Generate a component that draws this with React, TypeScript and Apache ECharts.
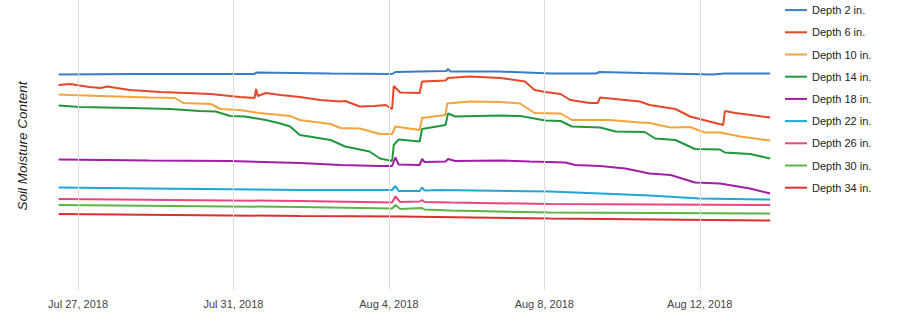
import React, { useEffect, useRef } from "react";
import * as echarts from "echarts";

const seriesNames = [
  "Depth 2 in.", "Depth 6 in.", "Depth 10 in.", "Depth 14 in.", "Depth 18 in.",
  "Depth 22 in.", "Depth 26 in.", "Depth 30 in.", "Depth 34 in.",
];
const seriesColors = [
  "#3a7cc6", "#e5472a", "#f4a53a", "#22973e", "#a11fa6",
  "#21a6d6", "#e8467f", "#5db443", "#d8302f",
];

const depth2: [string, number][] = [
  ["2018-07-26 12:00", 43.1], ["2018-07-28 12:00", 43.2], ["2018-07-31 13:00", 43.2],
  ["2018-07-31 14:00", 43.5], ["2018-08-02 12:00", 43.3], ["2018-08-04 02:00", 43.2],
  ["2018-08-04 04:00", 43.6], ["2018-08-04 19:00", 43.7], ["2018-08-05 11:30", 43.8],
  ["2018-08-05 12:30", 44.2], ["2018-08-05 14:00", 43.7], ["2018-08-06 20:00", 43.7],
  ["2018-08-08 04:00", 43.3], ["2018-08-09 08:00", 43.3], ["2018-08-09 10:00", 43.6],
  ["2018-08-10 12:00", 43.4], ["2018-08-12 08:00", 43.1], ["2018-08-12 15:00", 43.3],
  ["2018-08-13 19:30", 43.3],
];
const depth6: [string, number][] = [
  ["2018-07-26 12:00", 41.0], ["2018-07-26 19:00", 41.2], ["2018-07-27 07:00", 40.6],
  ["2018-07-27 14:00", 40.4], ["2018-07-27 18:00", 40.7], ["2018-07-28 08:00", 40.0],
  ["2018-07-29 03:00", 39.6], ["2018-07-29 19:00", 39.4], ["2018-07-30 10:00", 39.2],
  ["2018-07-31 04:00", 38.6], ["2018-07-31 13:00", 38.4], ["2018-07-31 14:00", 40.2],
  ["2018-07-31 15:00", 38.8], ["2018-07-31 20:00", 39.4], ["2018-08-01 05:00", 39.0],
  ["2018-08-01 17:00", 38.6], ["2018-08-02 05:30", 38.0], ["2018-08-02 18:00", 37.7],
  ["2018-08-02 21:00", 37.8], ["2018-08-03 06:00", 36.7], ["2018-08-03 15:00", 36.8],
  ["2018-08-03 22:00", 37.0], ["2018-08-04 02:00", 36.2], ["2018-08-04 03:00", 40.8],
  ["2018-08-04 07:00", 39.5], ["2018-08-04 19:00", 39.4], ["2018-08-04 20:30", 41.7],
  ["2018-08-05 11:00", 41.9], ["2018-08-05 12:30", 42.4], ["2018-08-06 02:00", 42.7],
  ["2018-08-06 21:00", 42.4], ["2018-08-07 12:00", 41.7], ["2018-08-07 18:00", 40.0],
  ["2018-08-08 00:30", 39.6], ["2018-08-08 10:00", 39.2], ["2018-08-08 16:00", 38.0],
  ["2018-08-09 04:00", 37.4], ["2018-08-09 09:00", 37.4], ["2018-08-09 10:30", 38.5],
  ["2018-08-09 13:30", 38.4], ["2018-08-10 11:00", 37.7], ["2018-08-10 17:00", 37.0],
  ["2018-08-11 09:00", 36.2], ["2018-08-11 18:00", 34.7], ["2018-08-12 09:30", 33.4],
  ["2018-08-12 14:30", 33.0], ["2018-08-12 15:30", 35.8], ["2018-08-12 22:00", 35.4],
  ["2018-08-13 10:00", 34.9], ["2018-08-13 19:30", 34.5],
];
const depth10: [string, number][] = [
  ["2018-07-26 12:00", 39.1], ["2018-07-26 19:00", 39.0], ["2018-07-27 14:00", 38.8],
  ["2018-07-28 20:00", 38.5], ["2018-07-29 12:00", 38.4], ["2018-07-29 17:00", 37.4],
  ["2018-07-30 10:00", 37.2], ["2018-07-30 16:00", 36.2], ["2018-07-31 04:00", 36.0],
  ["2018-07-31 16:00", 35.4], ["2018-08-01 11:00", 34.8], ["2018-08-01 17:00", 34.0],
  ["2018-08-02 12:00", 33.2], ["2018-08-02 18:00", 32.4], ["2018-08-03 06:00", 32.3],
  ["2018-08-03 18:30", 31.2], ["2018-08-04 02:00", 31.2], ["2018-08-04 04:00", 32.7],
  ["2018-08-04 19:00", 32.0], ["2018-08-04 20:30", 34.4], ["2018-08-05 11:00", 35.0],
  ["2018-08-05 12:00", 37.3], ["2018-08-06 02:00", 37.7], ["2018-08-06 21:00", 37.6],
  ["2018-08-07 09:00", 37.3], ["2018-08-07 18:00", 35.4], ["2018-08-08 10:00", 35.3],
  ["2018-08-08 17:00", 34.0], ["2018-08-09 16:30", 34.0], ["2018-08-10 11:00", 33.5],
  ["2018-08-10 17:00", 33.4], ["2018-08-11 06:00", 32.5], ["2018-08-11 18:00", 32.6],
  ["2018-08-12 03:00", 31.5], ["2018-08-12 12:30", 31.5], ["2018-08-13 01:00", 30.7],
  ["2018-08-13 19:30", 29.9],
];
const depth14: [string, number][] = [
  ["2018-07-26 12:00", 36.9], ["2018-07-27 01:00", 36.6], ["2018-07-28 08:00", 36.4],
  ["2018-07-29 09:00", 36.2], ["2018-07-30 03:00", 35.8], ["2018-07-30 13:00", 35.7],
  ["2018-07-30 22:00", 34.8], ["2018-07-31 07:00", 34.7], ["2018-07-31 20:00", 34.0],
  ["2018-08-01 05:00", 33.3], ["2018-08-01 11:00", 32.7], ["2018-08-01 17:00", 31.0],
  ["2018-08-02 12:00", 30.0], ["2018-08-02 21:00", 28.7], ["2018-08-03 12:00", 27.7],
  ["2018-08-03 18:30", 26.3], ["2018-08-04 02:00", 25.8], ["2018-08-04 03:00", 29.0],
  ["2018-08-04 06:00", 30.1], ["2018-08-04 19:00", 29.7], ["2018-08-04 20:30", 32.2],
  ["2018-08-05 11:00", 33.0], ["2018-08-05 12:30", 35.3], ["2018-08-05 17:00", 34.7],
  ["2018-08-06 21:00", 34.9], ["2018-08-07 09:00", 34.8], ["2018-08-07 18:00", 34.3],
  ["2018-08-08 00:30", 33.9], ["2018-08-08 10:00", 33.8], ["2018-08-08 17:00", 32.7],
  ["2018-08-09 10:30", 32.5], ["2018-08-09 20:00", 31.7], ["2018-08-10 14:00", 31.6],
  ["2018-08-10 20:30", 30.3], ["2018-08-11 09:00", 30.0], ["2018-08-11 21:00", 28.2],
  ["2018-08-12 12:30", 28.1], ["2018-08-12 15:30", 27.5], ["2018-08-13 07:00", 27.2],
  ["2018-08-13 19:30", 26.3],
];
const depth18: [string, number][] = [
  ["2018-07-26 12:00", 26.1], ["2018-07-28 20:00", 25.9], ["2018-07-30 22:00", 25.8],
  ["2018-08-01 17:00", 25.4], ["2018-08-02 18:00", 25.0], ["2018-08-03 18:30", 24.8],
  ["2018-08-04 02:00", 24.8], ["2018-08-04 04:00", 26.5], ["2018-08-04 06:00", 25.1],
  ["2018-08-04 19:00", 25.0], ["2018-08-04 20:30", 26.2], ["2018-08-04 22:00", 25.6],
  ["2018-08-05 11:00", 25.7], ["2018-08-05 12:30", 26.2], ["2018-08-05 17:00", 25.8],
  ["2018-08-06 21:00", 25.9], ["2018-08-07 15:00", 25.7], ["2018-08-08 13:00", 25.5],
  ["2018-08-08 19:00", 25.0], ["2018-08-09 10:30", 24.8], ["2018-08-10 02:00", 24.3],
  ["2018-08-10 17:00", 23.3], ["2018-08-11 06:00", 23.0], ["2018-08-11 21:00", 21.5],
  ["2018-08-12 12:30", 21.3], ["2018-08-13 07:00", 20.3], ["2018-08-13 19:30", 19.3],
];
const depth22: [string, number][] = [
  ["2018-07-26 12:00", 20.5], ["2018-07-28 20:00", 20.3], ["2018-08-01 17:00", 20.0],
  ["2018-08-04 02:00", 20.0], ["2018-08-04 04:00", 20.8], ["2018-08-04 06:00", 19.8],
  ["2018-08-04 19:00", 19.8], ["2018-08-04 20:30", 20.5], ["2018-08-04 22:00", 19.9],
  ["2018-08-05 08:00", 20.0], ["2018-08-08 03:30", 19.7], ["2018-08-09 10:30", 19.3],
  ["2018-08-10 17:00", 18.9], ["2018-08-12 00:00", 18.3], ["2018-08-13 19:30", 18.1],
];
const depth26: [string, number][] = [
  ["2018-07-26 12:00", 18.2], ["2018-08-01 17:00", 17.8], ["2018-08-04 02:00", 17.5],
  ["2018-08-04 04:00", 18.7], ["2018-08-04 07:00", 17.6], ["2018-08-04 19:00", 17.7],
  ["2018-08-04 20:30", 18.0], ["2018-08-04 22:00", 17.6], ["2018-08-05 14:00", 17.5],
  ["2018-08-08 03:30", 17.2], ["2018-08-13 19:30", 17.0],
];
const depth30: [string, number][] = [
  ["2018-07-26 12:00", 17.0], ["2018-08-01 17:00", 16.6], ["2018-08-04 02:00", 16.3],
  ["2018-08-04 04:00", 17.0], ["2018-08-04 07:00", 16.2], ["2018-08-04 20:30", 16.4],
  ["2018-08-04 22:00", 16.1], ["2018-08-05 14:00", 15.9], ["2018-08-08 03:30", 15.5],
  ["2018-08-13 19:30", 15.3],
];
const depth34: [string, number][] = [
  ["2018-07-26 12:00", 15.2], ["2018-08-01 17:00", 14.8], ["2018-08-04 07:00", 14.7],
  ["2018-08-08 03:30", 14.3], ["2018-08-13 19:30", 13.9],
];

const seriesData = [depth2, depth6, depth10, depth14, depth18, depth22, depth26, depth30, depth34];

const tickDates = ["2018-07-27 00:00", "2018-07-31 00:00", "2018-08-04 00:00", "2018-08-08 00:00", "2018-08-12 00:00"];
const tickLabels = ["Jul 27, 2018", "Jul 31, 2018", "Aug 4, 2018", "Aug 8, 2018", "Aug 12, 2018"];
const xMin = "2018-07-26 12:00";
const xMax = "2018-08-13 20:00";

const ts = (s: string) => new Date(s.replace(" ", "T") + ":00").getTime();

const FONT = "'Liberation Sans', Arial, sans-serif";

export default function App() {
  const ref = useRef<HTMLDivElement>(null);
  useEffect(() => {
    if (!ref.current) return;
    const chart = echarts.init(ref.current, undefined, { renderer: "svg" });
    const lineSeries = seriesNames.map((name, i) => ({
      name,
      type: "line",
      symbol: "none",
      z: 3,
      color: seriesColors[i],
      lineStyle: { width: 2, color: seriesColors[i] },
      data: seriesData[i].map(([t, v]) => [ts(t), v]),
    }));
    chart.setOption({
      animation: false,
      backgroundColor: "#fff",
      textStyle: { fontFamily: FONT },
      grid: { left: 58.6, right: 129, top: 0, bottom: 42 },
      legend: {
        orient: "vertical",
        left: 784,
        top: 4.5,
        padding: 0,
        itemWidth: 22,
        itemHeight: 14,
        itemGap: 11,
        itemStyle: { opacity: 0 },
        lineStyle: { width: 2 },
        data: seriesNames,
        textStyle: { fontSize: 11, color: "#222", fontFamily: FONT },
      },
      xAxis: {
        type: "time",
        min: ts(xMin),
        max: ts(xMax),
        axisLine: { show: false },
        axisTick: { show: false },
        axisLabel: { show: false },
        splitLine: { show: false },
      },
      yAxis: {
        type: "value",
        min: 0,
        max: 58,
        axisLine: { show: false },
        axisTick: { show: false },
        axisLabel: { show: false },
        splitLine: { show: false },
      },
      graphic: [
        {
          type: "text",
          x: 22,
          y: 146,
          rotation: Math.PI / 2,
          style: {
            text: "Soil Moisture Content",
            font: "italic 13.5px " + FONT,
            fill: "#222",
            textAlign: "center",
            textVerticalAlign: "middle",
          },
        },
      ],
      series: [
        {
          name: "grid",
          type: "line",
          data: [],
          z: 1,
          silent: true,
          markLine: {
            silent: true,
            symbol: "none",
            animation: false,
            lineStyle: { color: "#dedede", width: 1, type: "solid" },
            label: {
              show: true,
              position: "start",
              distance: 8,
              formatter: "{b}",
              fontSize: 11,
              color: "#444",
              fontFamily: FONT,
            },
            emphasis: { disabled: true },
            data: tickDates.map((d, i) => ({ xAxis: ts(d), name: tickLabels[i] })),
          },
        },
        ...lineSeries,
      ],
    });
    return () => chart.dispose();
  }, []);
  return (
    <div
      ref={ref}
      style={{ position: "fixed", left: 0, top: 0, width: 900, height: 332, background: "#fff" }}
    />
  );
}
